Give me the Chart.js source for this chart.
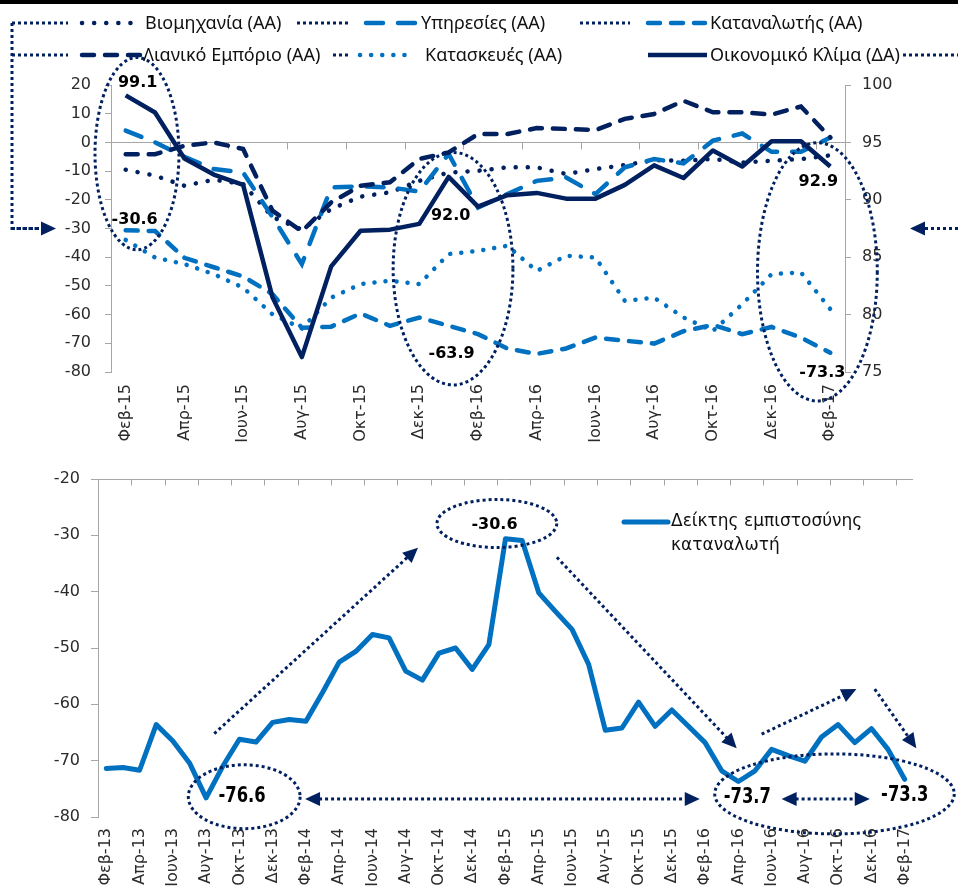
<!DOCTYPE html>
<html>
<head>
<meta charset="utf-8">
<script src="https://cdn.jsdelivr.net/npm/chart.js@4.4.0/dist/chart.umd.min.js"></script>
<style>
  html, body { margin: 0; padding: 0; background: #fff; overflow: hidden; }
  #wrap { position: relative; width: 958px; height: 892px; overflow: hidden; }
  #topBar { position: absolute; left: 0; top: 0; width: 958px; height: 4px; background: #000; }
  #c1 { position: absolute; left: 0; top: 0; }
  #c2 { position: absolute; left: 0; top: 450px; }
</style>
</head>
<body>
<div id="wrap">
  <canvas id="c1" width="958" height="450"></canvas>
  <canvas id="c2" width="958" height="442"></canvas>
  <div id="topBar"></div>
</div>
<script>
// ---- data : top chart (Feb-15 .. Feb-17) ----
const monthsTop = ['Φεβ-15','Μαρ-15','Απρ-15','Μαϊ-15','Ιουν-15','Ιουλ-15','Αυγ-15','Σεπ-15','Οκτ-15','Νοε-15','Δεκ-15','Ιαν-16',
  'Φεβ-16','Μαρ-16','Απρ-16','Μαϊ-16','Ιουν-16','Ιουλ-16','Αυγ-16','Σεπ-16','Οκτ-16','Νοε-16','Δεκ-16','Ιαν-17','Φεβ-17'];
const industry     = [-9.5, -11.6, -15.1, -13.0, -14.5, -26.0, -30.4, -23.2, -18.9, -17.4, -13.4, -10.5, -9.9, -8.7, -8.7, -11.0, -9.3, -7.9, -6.2, -6.4, -5.8, -7.0, -6.4, -5.8, -4.5];
const services     = [4.1, 0.0, -5.0, -9.3, -10.5, -26.0, -42.4, -15.7, -15.3, -15.7, -17.1, -4.0, -22.7, -18.0, -13.4, -12.2, -18.0, -8.7, -5.8, -7.3, 0.6, 3.1, -3.3, -3.3, 1.7];
const consumerTop  = [-30.6, -30.9, -40.2, -43.5, -46.7, -52.9, -64.6, -64.2, -59.6, -63.9, -61.0, -63.9, -66.8, -71.8, -73.7, -71.8, -68.0, -69.1, -70.1, -65.8, -63.6, -66.8, -64.3, -68.0, -73.3];
const retail       = [-4.1, -4.1, -1.2, 0.0, -2.3, -23.8, -31.0, -20.9, -15.1, -13.9, -5.8, -3.5, 2.9, 2.9, 5.0, 4.7, 4.3, 8.2, 9.9, 14.5, 10.5, 10.5, 9.7, 12.5, 1.7];
const construction = [-34.0, -40.1, -42.4, -45.9, -50.6, -59.9, -64.8, -54.1, -49.4, -48.2, -49.4, -38.9, -37.8, -36.0, -44.8, -39.5, -40.1, -55.2, -54.1, -61.0, -65.7, -56.4, -45.9, -45.3, -58.1];
const climate      = [99.1, 97.6, 93.6, 92.2, 91.3, 81.5, 76.3, 84.2, 87.3, 87.4, 87.9, 92.0, 89.4, 90.4, 90.6, 90.1, 90.1, 91.3, 93.0, 91.9, 94.3, 92.9, 95.1, 95.1, 92.9];
const leftTicks  = { min: -80, max: 20, step: 10 };
const rightTicks = { min: 75, max: 100, step: 5 };

// ---- data : bottom chart (Feb-13 .. Feb-17) ----
const monthsAll = ['Φεβ-13','Μαρ-13','Απρ-13','Μαϊ-13','Ιουν-13','Ιουλ-13','Αυγ-13','Σεπ-13','Οκτ-13','Νοε-13','Δεκ-13',
  'Ιαν-14','Φεβ-14','Μαρ-14','Απρ-14','Μαϊ-14','Ιουν-14','Ιουλ-14','Αυγ-14','Σεπ-14','Οκτ-14','Νοε-14','Δεκ-14',
  'Ιαν-15','Φεβ-15','Μαρ-15','Απρ-15','Μαϊ-15','Ιουν-15','Ιουλ-15','Αυγ-15','Σεπ-15','Οκτ-15','Νοε-15','Δεκ-15',
  'Ιαν-16','Φεβ-16','Μαρ-16','Απρ-16','Μαϊ-16','Ιουν-16','Ιουλ-16','Αυγ-16','Σεπ-16','Οκτ-16','Νοε-16','Δεκ-16',
  'Ιαν-17','Φεβ-17'];
const consumerAll = [-71.4, -71.2, -71.7, -63.6, -66.5, -70.4, -76.6, -71.0, -66.2, -66.7, -63.2, -62.7, -63.0, -57.9, -52.5, -50.6,
  -47.6, -48.2, -54.1, -55.7, -50.9, -50.0, -53.8, -49.4, -30.6, -30.9, -40.2, -43.5, -46.7, -52.9, -64.6, -64.2,
  -59.6, -63.9, -61.0, -63.9, -66.8, -71.8, -73.7, -71.8, -68.0, -69.1, -70.1, -65.8, -63.6, -66.8, -64.3, -68.0, -73.3];
const bottomTicks = { min: -80, max: -20, step: 10 };

const NAVY = '#002060', BLUE = '#0070C0', AXIS = '#A6A6A6', TXT = '#2b2b2b';
const TICKFONT = { family: 'DejaVu Sans', size: 16 };

// ---- drawing helpers for the hand-drawn annotations ----
function dotted(ctx) { ctx.strokeStyle = NAVY; ctx.lineWidth = 3; ctx.setLineDash([3, 3]); ctx.lineCap = 'butt'; }
function ellipse(ctx, cx, cy, rx, ry) {
  ctx.save(); dotted(ctx); ctx.beginPath(); ctx.ellipse(cx, cy, rx, ry, 0, 0, Math.PI * 2); ctx.stroke(); ctx.restore();
}
function head(ctx, x, y, ang) {
  const L = 15, W = 7, c = Math.cos(ang), s = Math.sin(ang);
  ctx.beginPath();
  ctx.moveTo(x, y);
  ctx.lineTo(x - L * c + W * s, y - L * s - W * c);
  ctx.lineTo(x - L * c - W * s, y - L * s + W * c);
  ctx.closePath(); ctx.fill();
}
function arrow(ctx, x1, y1, x2, y2, both) {
  const ang = Math.atan2(y2 - y1, x2 - x1), c = Math.cos(ang), s = Math.sin(ang);
  ctx.save(); dotted(ctx); ctx.fillStyle = NAVY;
  ctx.beginPath();
  ctx.moveTo(both ? x1 + 14 * c : x1, both ? y1 + 14 * s : y1);
  ctx.lineTo(x2 - 14 * c, y2 - 14 * s);
  ctx.stroke(); ctx.setLineDash([]);
  head(ctx, x2, y2, ang);
  if (both) head(ctx, x1, y1, ang + Math.PI);
  ctx.restore();
}
function polyline(ctx, pts) {
  ctx.save(); dotted(ctx); ctx.beginPath();
  pts.forEach((p, k) => k ? ctx.lineTo(p[0], p[1]) : ctx.moveTo(p[0], p[1]));
  ctx.stroke(); ctx.restore();
}
// sx < 1 squeezes the text horizontally (narrow bold labels)
function label(ctx, text, x, y, font, sx) {
  ctx.save(); ctx.translate(x, y); ctx.scale(sx || 1, 1);
  ctx.font = font; ctx.fillStyle = '#000'; ctx.textAlign = 'center'; ctx.textBaseline = 'middle';
  ctx.fillText(text, 0, 0); ctx.restore();
}
function sample(ctx, ds, x1, x2, y) {
  ctx.save();
  ctx.strokeStyle = ds.borderColor; ctx.lineWidth = ds.borderWidth;
  ctx.setLineDash(ds.borderDash || []); ctx.lineCap = ds.borderCapStyle || 'butt';
  ctx.beginPath(); ctx.moveTo(x1, y); ctx.lineTo(x2, y); ctx.stroke(); ctx.restore();
}

// ---- top chart decorations ----
const topEllipses = [
  { i: 0.385, v: -3.9, ri: 1.43, rv: 33.5 },
  { i: 11.15, v: -44.0, ri: 2.04, rv: 40.5 },
  { i: 23.56, v: -45.1, ri: 2.04, rv: 45.0 }
];
const topLabels = [
  { data: climate, axis: 'y1', i: 0, dx: 12, dy: -12 },
  { data: consumerTop, axis: 'y', i: 0, dx: 9, dy: -10 },
  { data: climate, axis: 'y1', i: 11, dx: 2, dy: 39 },
  { data: consumerTop, axis: 'y', i: 11, dx: 3, dy: 28 },
  { data: climate, axis: 'y1', i: 24, dx: -12, dy: 15 },
  { data: consumerTop, axis: 'y', i: 24, dx: -8, dy: 20 }
];
// legend layout: [dataset index or -1 for plain dotted rule, x1, x2, text x]
const topLegend = [
  { y: 23, items: [[-1, 12, 68], [0, 82, 135, 145], [-1, 297, 350], [1, 366, 418, 421], [-1, 580, 630], [2, 648, 705, 710]] },
  { y: 55, items: [[-1, 12, 68], [3, 82, 140, 143], [-1, 333, 350], [4, 360, 412, 425], [5, 648, 707, 710], [-1, 903, 958]] }
];

const topDecor = {
  id: 'topDecor',
  beforeDatasetsDraw(chart) {
    const { ctx, chartArea: a, scales: { y } } = chart;
    const y0 = Math.round(y.getPixelForValue(0)) + 0.5;
    const cw = (a.right - a.left) / monthsTop.length;
    ctx.save(); ctx.strokeStyle = AXIS; ctx.lineWidth = 1; ctx.beginPath();
    ctx.moveTo(a.left, y0); ctx.lineTo(a.right, y0);
    for (let m = 0; m <= monthsTop.length; m += 2) {
      const xx = Math.round(a.left + m * cw) + 0.5;
      ctx.moveTo(xx, y0); ctx.lineTo(xx, y0 + 7);
    }
    ctx.stroke(); ctx.restore();
  },
  afterDraw(chart) {
    const { ctx, scales } = chart;
    const x = scales.x, y = scales.y;
    const cw = x.getPixelForValue(1) - x.getPixelForValue(0);
    const unit = y.getPixelForValue(0) - y.getPixelForValue(1);

    // bracket + arrows pointing at the -30 level
    const ya = y.getPixelForValue(-30);
    polyline(ctx, [[12, topLegend[0].y], [12, ya], [40, ya]]);
    arrow(ctx, 12, ya, 56, ya, false);
    arrow(ctx, 958, ya, 910, ya, false);

    // legend
    topLegend.forEach(row => {
      row.items.forEach(it => {
        if (it[0] < 0) { polyline(ctx, [[it[1], row.y], [it[2], row.y]]); return; }
        const ds = chart.data.datasets[it[0]];
        sample(ctx, ds, it[1], it[2], row.y);
        ctx.save(); ctx.font = '18px "Noto Sans"'; ctx.fillStyle = '#111'; ctx.textBaseline = 'middle';
        ctx.fillText(ds.label, it[3], row.y + 1); ctx.restore();
      });
    });

    topEllipses.forEach(e => ellipse(ctx, x.getPixelForValue(e.i), y.getPixelForValue(e.v), e.ri * cw, e.rv * unit));
    topLabels.forEach(l => {
      const sc = scales[l.axis];
      label(ctx, l.data[l.i].toFixed(1), x.getPixelForValue(l.i) + l.dx, sc.getPixelForValue(l.data[l.i]) + l.dy,
        'bold 16px "DejaVu Sans"');
    });
  }
};

const everyOther = (labels) => (v, i) => (i % 2 === 0 ? labels[i] : '');

new Chart(document.getElementById('c1'), {
  type: 'line',
  data: {
    labels: monthsTop,
    datasets: [
      { label: 'Βιομηχανία (ΑΑ)', data: industry, yAxisID: 'y', borderColor: NAVY, borderWidth: 4.5, borderDash: [0.1, 12], borderCapStyle: 'round', order: 5 },
      { label: 'Υπηρεσίες (ΑΑ)', data: services, yAxisID: 'y', borderColor: BLUE, borderWidth: 4.5, borderDash: [17, 15], borderCapStyle: 'round', order: 4 },
      { label: 'Καταναλωτής (ΑΑ)', data: consumerTop, yAxisID: 'y', borderColor: BLUE, borderWidth: 4.5, borderDash: [12, 11], borderCapStyle: 'round', order: 3 },
      { label: 'Λιανικό Εμπόριο (ΑΑ)', data: retail, yAxisID: 'y', borderColor: NAVY, borderWidth: 4.5, borderDash: [12, 11], borderCapStyle: 'round', order: 2 },
      { label: 'Κατασκευές (ΑΑ)', data: construction, yAxisID: 'y', borderColor: BLUE, borderWidth: 4.5, borderDash: [0.1, 11], borderCapStyle: 'round', order: 1 },
      { label: 'Οικονομικό Κλίμα (ΔΑ)', data: climate, yAxisID: 'y1', borderColor: NAVY, borderWidth: 4.5, borderJoinStyle: 'round', order: 0 }
    ]
  },
  options: {
    responsive: false,
    animation: false,
    elements: { point: { radius: 0 }, line: { tension: 0, fill: false } },
    layout: { padding: { top: 85, left: 0, right: 0, bottom: 0 } },
    plugins: { legend: { display: false }, tooltip: { enabled: false } },
    scales: {
      x: {
        offset: true,
        grid: { display: false, drawTicks: false },
        border: { display: false },
        ticks: { autoSkip: false, minRotation: 90, maxRotation: 90, padding: 12, font: TICKFONT, color: TXT, callback: everyOther(monthsTop) },
        afterFit: s => { s.height = 78; }
      },
      y: {
        position: 'left', min: leftTicks.min, max: leftTicks.max,
        ticks: { stepSize: leftTicks.step, padding: 14, font: TICKFONT, color: TXT },
        grid: { drawOnChartArea: false, tickLength: 6, color: AXIS },
        border: { color: AXIS },
        afterFit: s => { s.width = 111; }
      },
      y1: {
        position: 'right', min: rightTicks.min, max: rightTicks.max,
        ticks: { stepSize: rightTicks.step, padding: 11, font: TICKFONT, color: TXT },
        grid: { drawOnChartArea: false, tickLength: 6, color: AXIS },
        border: { color: AXIS },
        afterFit: s => { s.width = 113; }
      }
    }
  },
  plugins: [topDecor]
});

// ---- bottom chart decorations ----
const botEllipses = [
  { i: 23.48, v: -27.9, ri: 3.6, rv: 4.26 },
  { i: 8.29, v: -76.4, ri: 3.36, rv: 5.67 },
  { i: 43.78, v: -75.9, ri: 7.2, rv: 7.1 }
];
const botArrows = [
  { i1: 6.49, v1: -65.2, i2: 18.74, v2: -32.2, both: false },
  { i1: 27.09, v1: -33.9, i2: 37.9, v2: -67.8, both: false },
  { i1: 39.4, v1: -65.3, i2: 45.1, v2: -57.3, both: false },
  { i1: 46.2, v1: -57.3, i2: 48.7, v2: -67.8, both: false },
  { i1: 11.95, v1: -76.8, i2: 35.68, v2: -76.8, both: true },
  { i1: 40.6, v1: -76.8, i2: 45.9, v2: -76.8, both: true }
];
const NARROW = 'bold 21px "DejaVu Sans"';
const botLabels = [
  { i: 24, dx: -11, dy: -14, font: 'bold 16px "DejaVu Sans"', sx: 1 },
  { i: 6, dx: 36, dy: -1, font: NARROW, sx: 0.78 },
  { i: 38, dx: 9, dy: 16, font: NARROW, sx: 0.78 },
  { i: 48, dx: 0, dy: 16, font: NARROW, sx: 0.78 }
];

const botDecor = {
  id: 'botDecor',
  beforeDatasetsDraw(chart) {
    const { ctx, chartArea: a } = chart;
    const cw = (a.right - a.left) / monthsAll.length;
    const yt = Math.round(a.top) + 0.5;
    ctx.save(); ctx.strokeStyle = AXIS; ctx.lineWidth = 1; ctx.beginPath();
    ctx.moveTo(a.left, yt); ctx.lineTo(a.right, yt);
    for (let m = 0; m <= monthsAll.length; m += 2) {
      const xx = Math.round(a.left + m * cw) + 0.5;
      ctx.moveTo(xx, yt); ctx.lineTo(xx, yt + 6);
    }
    ctx.stroke(); ctx.restore();
  },
  afterDraw(chart) {
    const { ctx, scales: { x, y } } = chart;
    const cw = x.getPixelForValue(1) - x.getPixelForValue(0);
    const unit = y.getPixelForValue(0) - y.getPixelForValue(1);
    const ds = chart.data.datasets[0];

    // legend
    sample(ctx, ds, 624, 668, 72);
    ctx.save(); ctx.font = '17px "DejaVu Sans"'; ctx.fillStyle = '#111'; ctx.textBaseline = 'middle';
    const words = ds.label.split(' ');
    ctx.fillText(words.slice(0, 2).join(' '), 671, 72);
    ctx.fillText(words.slice(2).join(' '), 671, 96);
    ctx.restore();

    botArrows.forEach(r => arrow(ctx, x.getPixelForValue(r.i1), y.getPixelForValue(r.v1),
      x.getPixelForValue(r.i2), y.getPixelForValue(r.v2), r.both));
    botEllipses.forEach(e => ellipse(ctx, x.getPixelForValue(e.i), y.getPixelForValue(e.v), e.ri * cw, e.rv * unit));
    botLabels.forEach(l => label(ctx, consumerAll[l.i].toFixed(1), x.getPixelForValue(l.i) + l.dx,
      y.getPixelForValue(consumerAll[l.i]) + l.dy, l.font, l.sx));
  }
};

new Chart(document.getElementById('c2'), {
  type: 'line',
  data: {
    labels: monthsAll,
    datasets: [
      { label: 'Δείκτης εμπιστοσύνης καταναλωτή', data: consumerAll, borderColor: BLUE, borderWidth: 5, borderJoinStyle: 'round', borderCapStyle: 'round' }
    ]
  },
  options: {
    responsive: false,
    animation: false,
    elements: { point: { radius: 0 }, line: { tension: 0, fill: false } },
    layout: { padding: { top: 29, left: 0, right: 45, bottom: 0 } },
    plugins: { legend: { display: false }, tooltip: { enabled: false } },
    scales: {
      x: {
        offset: true,
        grid: { display: false, drawTicks: false },
        border: { display: false },
        ticks: { autoSkip: false, minRotation: 90, maxRotation: 90, padding: 11, font: TICKFONT, color: TXT, callback: everyOther(monthsAll) },
        afterFit: s => { s.height = 75; }
      },
      y: {
        position: 'left', min: bottomTicks.min, max: bottomTicks.max,
        ticks: { stepSize: bottomTicks.step, padding: 11, font: TICKFONT, color: TXT },
        grid: { drawOnChartArea: false, tickLength: 7, color: AXIS },
        border: { color: AXIS },
        afterFit: s => { s.width = 98; }
      }
    }
  },
  plugins: [botDecor]
});
</script>
</body>
</html>
